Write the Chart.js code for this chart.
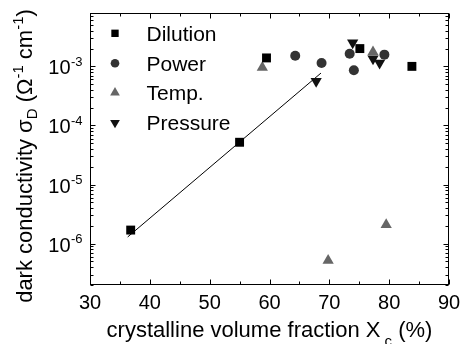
<!DOCTYPE html>
<html>
<head>
<meta charset="utf-8">
<script src="https://cdn.jsdelivr.net/npm/chart.js@4.4.1/dist/chart.umd.min.js"></script>
<style>
  html, body { margin: 0; padding: 0; background: #fff; }
  #wrap { width: 460px; height: 344px; }
</style>
</head>
<body>
<div id="wrap"><canvas id="chart" width="460" height="344"></canvas></div>
<script>
// data
const xTicks = [30, 40, 50, 60, 70, 80, 90];
const yTickExps = [-6, -5, -4, -3];

const dilutionX = [36.8, 55.0, 59.5, 75.1, 83.8];
const dilutionY = [1.7e-6, 5.2e-5, 1.39e-3, 2.0e-3, 1.0e-3];

const powerX = [64.3, 68.7, 73.4, 74.1, 79.2];
const powerY = [1.51e-3, 1.14e-3, 1.64e-3, 0.86e-3, 1.58e-3];

const tempX = [58.8, 69.8, 77.3, 79.5];
const tempY = [0.96e-3, 5.2e-7, 1.75e-3, 2.1e-6];

const pressureX = [67.8, 73.9, 77.3, 78.4];
const pressureY = [0.56e-3, 2.5e-3, 1.35e-3, 1.14e-3];

const fitX = [36.3, 68.6];
const fitY = [1.3e-6, 7.7e-4];

const FONT = '"Liberation Sans", Arial, Helvetica, sans-serif';

function pts(xs, ys) {
  return xs.map((x, i) => ({ x: x, y: ys[i] }));
}

const series = [
  { label: "Dilution", xs: dilutionX, ys: dilutionY, color: "#000000", style: "rect", r: 6.3, rot: 0, lr: 5.2 },
  { label: "Power", xs: powerX, ys: powerY, color: "#333333", style: "circle", r: 5, rot: 0, lr: 4.3 },
  { label: "Temp.", xs: tempX, ys: tempY, color: "#666666", style: "triangle", r: 6.5, rot: 0, lr: 5.6 },
  { label: "Pressure", xs: pressureX, ys: pressureY, color: "#111111", style: "triangle", r: 6.5, rot: 180, lr: 5.6 }
];

// draw text made of pieces (sub/superscripts), centred on cx
function drawRich(ctx, parts, cx, baseY) {
  let total = 0;
  parts.forEach(p => {
    ctx.font = p.size + "px " + FONT;
    p.w = ctx.measureText(p.text).width;
    total += p.w;
  });
  let x = cx - total / 2;
  parts.forEach(p => {
    ctx.font = p.size + "px " + FONT;
    ctx.fillText(p.text, x, baseY + (p.dy || 0));
    x += p.w;
  });
}

const decoPlugin = {
  id: "deco",
  afterDatasetsDraw(chart) {
    const { ctx, chartArea: a, scales: { x, y } } = chart;
    const L = Math.round(a.left) + 0.5, R = Math.round(a.right) - 0.5;
    const T = Math.round(a.top) + 0.5, B = Math.round(a.bottom) - 0.5;
    ctx.save();
    ctx.strokeStyle = "#000";
    ctx.lineWidth = 1;
    ctx.strokeRect(L, T, R - L, B - T);

    ctx.beginPath();
    // x ticks, top and bottom, inward
    xTicks.forEach((v, i) => {
      const px = Math.round(x.getPixelForValue(v)) + 0.5;
      ctx.moveTo(px, B); ctx.lineTo(px, B - 5);
      ctx.moveTo(px, T); ctx.lineTo(px, T + 5);
      if (i < xTicks.length - 1) {
        const mx = Math.round(x.getPixelForValue((v + xTicks[i + 1]) / 2)) + 0.5;
        ctx.moveTo(mx, B); ctx.lineTo(mx, B - 3);
        ctx.moveTo(mx, T); ctx.lineTo(mx, T + 3);
      }
    });
    // y ticks, log decades with minors
    for (let e = -7; e <= -2; e++) {
      for (let m = 1; m <= 9; m++) {
        const v = m * Math.pow(10, e);
        if (v < y.min || v > y.max) continue;
        const py = Math.round(y.getPixelForValue(v)) + 0.5;
        const len = m === 1 ? 5 : 3;
        ctx.moveTo(L, py); ctx.lineTo(L + len, py);
        ctx.moveTo(R, py); ctx.lineTo(R - len, py);
      }
    }
    ctx.stroke();

    ctx.fillStyle = "#000";
    // x tick labels
    ctx.font = "20px " + FONT;
    ctx.textAlign = "center";
    ctx.textBaseline = "alphabetic";
    xTicks.forEach(v => {
      ctx.fillText(String(v), x.getPixelForValue(v), 309);
    });
    // y tick labels 10^n
    yTickExps.forEach(e => {
      const py = y.getPixelForValue(Math.pow(10, e));
      ctx.font = "20px " + FONT;
      ctx.textAlign = "right";
      ctx.fillText("10", 70.5, py + 8);
      ctx.font = "13px " + FONT;
      ctx.textAlign = "left";
      ctx.fillText(String(e), 71, py - 0.5);
    });

    // x title
    ctx.textAlign = "left";
    drawRich(ctx, [
      { text: "crystalline volume fraction X", size: 22 },
      { text: " c", size: 15, dy: 9 },
      { text: " (%)", size: 22 }
    ], (a.left + a.right) / 2, 336.5);

    // y title
    ctx.save();
    ctx.translate(32, 156);
    ctx.rotate(-Math.PI / 2);
    drawRich(ctx, [
      { text: "dark conductivity \u03c3", size: 22 },
      { text: "D", size: 15, dy: 5 },
      { text: " (\u03a9", size: 22 },
      { text: "-1", size: 15, dy: -9 },
      { text: " cm", size: 22 },
      { text: "-1", size: 15, dy: -9 },
      { text: ")", size: 22 }
    ], 0, 0);
    ctx.restore();

    // legend inside the plot
    const rows = [33.3, 63.3, 92.7, 122.7];
    series.forEach((s, i) => {
      ctx.fillStyle = s.color;
      Chart.helpers.drawPoint(ctx, { pointStyle: s.style, radius: s.lr, rotation: s.rot, borderWidth: 0 }, 115, rows[i]);
      ctx.fillStyle = "#000";
      ctx.font = "21px " + FONT;
      ctx.textAlign = "left";
      ctx.fillText(s.label, 146.5, rows[i] + 7.5);
    });
    ctx.restore();
  }
};

const datasets = series.map(s => ({
  label: s.label,
  data: pts(s.xs, s.ys),
  backgroundColor: s.color,
  borderColor: s.color,
  borderWidth: 0,
  pointStyle: s.style,
  pointRotation: s.rot,
  pointRadius: s.r,
  pointHoverRadius: s.r,
  order: 0
}));

datasets.push({
  label: "fit",
  data: pts(fitX, fitY),
  showLine: true,
  borderColor: "#000",
  borderWidth: 1,
  pointRadius: 0,
  fill: false,
  order: 10
});

new Chart(document.getElementById("chart").getContext("2d"), {
  type: "scatter",
  data: { datasets },
  options: {
    responsive: false,
    animation: false,
    events: [],
    layout: { padding: { top: 13, right: 11, left: 0, bottom: 0 }, autoPadding: false },
    plugins: { legend: { display: false }, tooltip: { enabled: false } },
    scales: {
      x: {
        type: "linear",
        min: 30,
        max: 90,
        ticks: { display: false },
        grid: { display: false },
        border: { display: false },
        afterFit(scale) { scale.height = 59; }
      },
      y: {
        type: "logarithmic",
        min: 2e-7,
        max: 8e-3,
        ticks: { display: false },
        grid: { display: false },
        border: { display: false },
        afterFit(scale) { scale.width = 90; }
      }
    }
  },
  plugins: [decoPlugin]
});
</script>
</body>
</html>
